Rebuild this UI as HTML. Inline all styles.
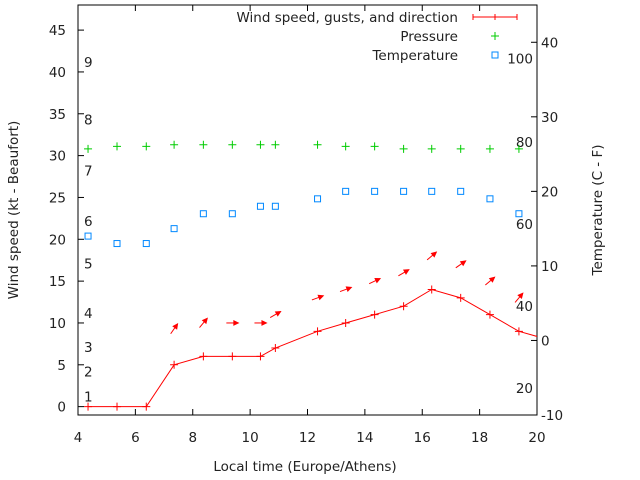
<!DOCTYPE html>
<html><head><meta charset="utf-8"><style>
html,body{margin:0;padding:0;background:#fff;}
svg{display:block;font-family:"DejaVu Sans","Liberation Sans",sans-serif;font-size:13.5px;fill:#222;}
</style></head><body>
<svg id="c" width="640" height="480" viewBox="0 0 640 480"></svg>
<script>
const times=[4.35,5.36,6.38,7.35,8.37,9.38,10.36,10.88,12.35,13.33,14.34,15.35,16.33,17.34,18.36,19.37,20.4];
const wind=[0,0,0,5,6,6,6,7,9,10,11,12,14,13,11,9,8];
const pressure=[30.8,31.1,31.1,31.3,31.3,31.3,31.3,31.3,31.3,31.1,31.1,30.8,30.8,30.8,30.8,30.8];
const temperature=[14,13,13,15,17,17,18,18,19,20,20,20,20,20,19,17];
const gustTimes=[7.35,8.37,9.38,10.36,10.88,12.35,13.33,14.34,15.35,16.33,17.34,18.36,19.37];
const gusts=[9.3,10,10,10,11,13,14,15,16,18,17,15,13];
const gustDir=[55,50,0,0,30,20,20,25,30,40,35,40,50];
const xTicks=[4,6,8,10,12,14,16,18,20];
const yTicks=[0,5,10,15,20,25,30,35,40,45];
const y2Ticks=[-10,0,10,20,30,40];
const beaufortLabels=["1","2","3","4","5","6","7","8","9"];
const beaufortKt=[1.2,4.2,7.1,11.2,17.1,22.2,28.2,34.3,41.2];
const fLabels=["20","40","60","80","100"];
const fKt=[2.2,12,21.8,31.6,41.6];

const L=78,R=537,T=5,B=415;
const sx=v=>L+(v-4)/16*(R-L);
const sy=v=>B-(v+1)/49*(B-T);
const sy2=v=>B-(v+10)/55*(B-T);
const svg=document.getElementById('c');
const NS='http://www.w3.org/2000/svg';
function mk(tag,attrs,parent){const e=document.createElementNS(NS,tag);for(const k in attrs)e.setAttribute(k,attrs[k]);(parent||svg).appendChild(e);return e;}
function txt(s,x,y,anchor,parent){const t=mk('text',{x:x,y:y,'text-anchor':anchor||'start'},parent);t.textContent=s;return t;}

const axes=mk('g',{});


mk('rect',{x:L,y:T,width:R-L,height:B-T,fill:'none',stroke:'#000','stroke-width':1},axes);
xTicks.forEach(v=>{const x=sx(v);mk('line',{x1:x,y1:B,x2:x,y2:B-6,stroke:'#000'},axes);mk('line',{x1:x,y1:T,x2:x,y2:T+6,stroke:'#000'},axes);
 const t=txt(String(v),x,442,'middle',axes);});
yTicks.forEach(v=>{const y=sy(v);mk('line',{x1:L,y1:y,x2:L+6,y2:y,stroke:'#000'},axes);
 const t=txt(String(v),66,y+5,'end',axes);});
y2Ticks.forEach(v=>{const y=sy2(v);mk('line',{x1:R,y1:y,x2:R-6,y2:y,stroke:'#000'},axes);
 const t=txt(String(v),541,y+5,'start',axes);});
let t=txt('Local time (Europe/Athens)',305,471,'middle');

t=txt('Wind speed (kt - Beaufort)',0,0,'middle');t.setAttribute('transform','translate(18,210) rotate(-90)');

t=txt('Temperature (C - F)',0,0,'middle');t.setAttribute('transform','translate(602,210) rotate(-90)');


beaufortLabels.forEach((s,i)=>{const e=txt(s,84,sy(beaufortKt[i])+5,'start');});
fLabels.forEach((s,i)=>{const e=txt(s,533,sy(fKt[i])+5,'end');});

const clip=mk('clipPath',{id:'clip'});
mk('rect',{x:L,y:T,width:R-L,height:B-T},clip);

const wg=mk('g',{'clip-path':'url(#clip)'});

mk('polyline',{points:times.map((x,i)=>sx(x)+','+sy(wind[i])).join(' '),fill:'none',stroke:'#f00','stroke-width':1},wg);
times.forEach((x,i)=>{const px=sx(x),py=sy(wind[i]);const p=mk('path',{d:`M${px-4},${py}h8M${px},${py-4}v8`,stroke:'#f00'},wg);
 });

const gg=mk('g',{});
gustTimes.forEach((x,i)=>{const cx=sx(x),cy=sy(gusts[i]);const a=gustDir[i]*Math.PI/180;const dx=Math.cos(a)*6,dy=-Math.sin(a)*6;
 const x2=cx+dx,y2=cy+dy;const ha=Math.atan2(dy,dx);
 const h1x=x2-5*Math.cos(ha-0.45),h1y=y2-5*Math.sin(ha-0.45),h2x=x2-5*Math.cos(ha+0.45),h2y=y2-5*Math.sin(ha+0.45);
 const g=mk('g',{},gg);
 mk('line',{x1:cx-dx,y1:cy-dy,x2:x2,y2:y2,stroke:'#f00'},g);
 mk('path',{d:`M${x2},${y2}L${h1x},${h1y}L${h2x},${h2y}Z`,fill:'#f00',stroke:'#f00'},g);});

const pg=mk('g',{});
pressure.forEach((v,i)=>{const px=sx(times[i]),py=sy(v);const p=mk('path',{d:`M${px-4},${py}h8M${px},${py-4}v8`,stroke:'#0c0'},pg);
 });

const tg=mk('g',{});
temperature.forEach((v,i)=>{const px=sx(times[i]),py=sy2(v);const r=mk('rect',{x:px-3,y:py-3,width:6,height:6,fill:'none',stroke:'#08f'},tg);
 });

const lg=mk('g',{});
const e1=mk('g',{},lg);
txt('Wind speed, gusts, and direction',458,22,'end',e1);
mk('path',{d:'M473,17h44M473,14v6M495,14v6M517,14v6',stroke:'#f00'},e1);
const e2=mk('g',{},lg);
txt('Pressure',458,41,'end',e2);
mk('path',{d:'M491,36h8M495,32v8',stroke:'#0c0'},e2);
const e3=mk('g',{},lg);
txt('Temperature',458,60,'end',e3);
mk('rect',{x:492,y:52,width:6,height:6,fill:'none',stroke:'#08f'},e3);
</script>
</body></html>
